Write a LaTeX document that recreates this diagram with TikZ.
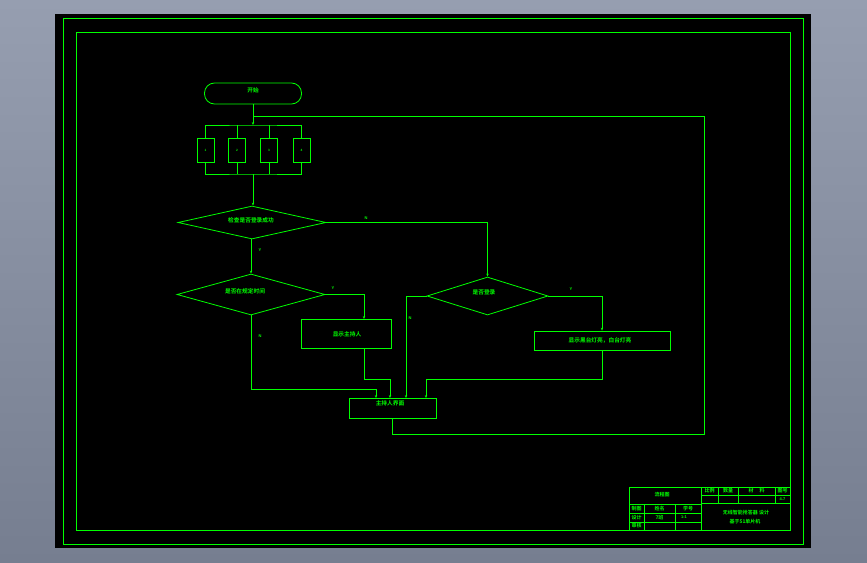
\documentclass[tikz,border=0pt]{standalone}
\usepackage{fontspec}
\setmainfont{Liberation Sans}
\newfontfamily\cjk{Noto Sans CJK SC}[BoldFont={* Bold}]
\usetikzlibrary{shapes.geometric,arrows.meta}
\definecolor{cg}{RGB}{0,255,0}
\definecolor{bgtop}{RGB}{150,158,176}
\definecolor{bgbot}{RGB}{118,126,144}
\begin{document}
\begin{tikzpicture}[x=1pt,y=-1pt,
  every node/.style={text=cg,font=\cjk\bfseries\fontsize{5.7}{6.5}\selectfont,inner sep=0pt},
  ln/.style={draw=cg,line width=0.8pt},
  arr/.style={ln,-{Stealth[length=3pt,width=2.4pt]}},
  term/.style={ln,rounded corners=10pt,minimum width=97pt,minimum height=21pt},
  cbox/.style={ln,minimum width=17pt,minimum height=24pt},
  pbox/.style={ln,rectangle},
  dec/.style={ln,diamond},
  lab/.style={font=\bfseries\fontsize{4}{4}\selectfont},
  tb/.style={font=\cjk\bfseries\fontsize{5}{6}\selectfont}]
\useasboundingbox (0,0) rectangle (867,562);
\shade[top color=bgtop,bottom color=bgbot] (0,0) rectangle (867,562);
\fill[black] (55,14) rectangle (811,548);
\draw[ln] (63,18) rectangle (803,544);
\draw[ln] (76,32) rectangle (790,530);

% start
\node[term] (start) at (253,93.5) {};
\node (starttxt) at (253,90) {开始};

% parallel boxes
\node[cbox] (p1) at (205.5,150) {\fontsize{3}{3}\selectfont 1};
\node[cbox] (p2) at (237,150) {\fontsize{3}{3}\selectfont 2};
\node[cbox] (p3) at (269,150) {\fontsize{3}{3}\selectfont 3};
\node[cbox] (p4) at (301.5,150) {\fontsize{3}{3}\selectfont 4};
\coordinate (bt) at (253,125);
\coordinate (bb) at (253,174);
\coordinate (fb) at (253,116);
\draw[arr] (start.south) -- (bt);
\draw[ln] (p1.north) |- (bt) -| (p4.north);
\draw[ln] (p2.north) -- (p2.north |- bt);
\draw[ln] (p3.north) -- (p3.north |- bt);
\draw[ln] (p1.south) |- (bb) -| (p4.south);
\draw[ln] (p2.south) -- (p2.south |- bb);
\draw[ln] (p3.south) -- (p3.south |- bb);

% decisions
\node[dec,minimum width=148pt,minimum height=33pt] (d1) at (252,222.5) {};
\node (d1t) at (251,220) {检查是否登录成功};
\node[dec,minimum width=148pt,minimum height=41pt] (d2) at (251,294.5) {};
\node (d2t) at (245,291) {是否在规定时间};
\node[dec,minimum width=121pt,minimum height=38pt] (d3) at (487.5,296) {};
\node (d3t) at (484,292) {是否登录};

% process boxes
\node[pbox,minimum width=90pt,minimum height=29pt] (a) at (346,333.5) {};
\node (at) at (347,334) {显示主持人};
\node[pbox,minimum width=136pt,minimum height=19pt] (b) at (602,340.5) {};
\node (bt2) at (600,340.5) {显示黑台灯亮，白台灯亮};
\node[pbox,minimum width=87pt,minimum height=20pt] (m) at (392.5,408) {};
\node (mt) at (390,403) {主持人界面};

\coordinate (ax) at (364,319);
\coordinate (as) at (364,348);
\coordinate (m1) at (376,398);
\coordinate (m2) at (390,398);
\coordinate (m3) at (406,398);
\coordinate (m4) at (426,398);

\draw[arr] (bb) -- (bb |- d1.north);
\draw[arr] (d1.east) -| (d3.north);
\draw[arr] (d1.south -| d2.north) -- (d2.north);
\draw[arr] (d2.east) -| (ax);
\draw[arr] (d2.south) -- (251,389) -| (m1);
\draw[arr] (as) -- (364,379) -| (m2);
\draw[arr] (d3.west) -| (m3);
\draw[arr] (d3.east) -| (b.north);
\draw[arr] (b.south) -- (602,379) -| (m4);
\draw[ln] (m.south) -- (392.5,434) -| (704,116) -- (fb);

% branch labels
\node[lab] (l1) at (366,218) {N};
\node[lab] (l2) at (260,250) {Y};
\node[lab] (l3) at (333,288) {Y};
\node[lab] (l4) at (260,336) {N};
\node[lab] (l5) at (571,289) {Y};
\node[lab] (l6) at (410,318) {N};

% title block
\draw[ln] (629,487) rectangle (790,530);
\draw[ln] (701,487) -- (701,530);
\draw[ln] (629,504) -- (701,504);
\draw[ln] (629,513) -- (701,513);
\draw[ln] (629,522) -- (701,522);
\draw[ln] (644,504) -- (644,530);
\draw[ln] (675,504) -- (675,530);
\draw[ln] (701,495) -- (790,495);
\draw[ln] (701,503) -- (790,503);
\draw[ln] (718,487) -- (718,503);
\draw[ln] (738,487) -- (738,503);
\draw[ln] (775,487) -- (775,503);
\node[tb] (t1) at (662,495) {流程图};
\node[tb] (t2) at (709.5,491) {比例};
\node[tb] (t3) at (728,491) {数量};
\node[tb] (t4) at (756.5,491) {材\hspace{6pt}料};
\node[tb] (t5) at (782.5,491) {图号};
\node[lab] (t6) at (782.5,499) {4.7};
\node[tb] (t7) at (636.5,508.5) {制图};
\node[tb] (t8) at (659.5,508.5) {姓名};
\node[tb] (t9) at (688,508.5) {学号};
\node[tb] (t10) at (636.5,517.5) {设计};
\node[tb] (t11) at (659.5,517.5) {7班};
\node[lab] (t12) at (684,517.5) {1:1};
\node[tb] (t13) at (636.5,526) {审核};
\node[tb] (t14) at (746,513) {无线智能抢答器 设计};
\node[tb] (t15) at (745,521.5) {基于51单片机};
\end{tikzpicture}
\end{document}
